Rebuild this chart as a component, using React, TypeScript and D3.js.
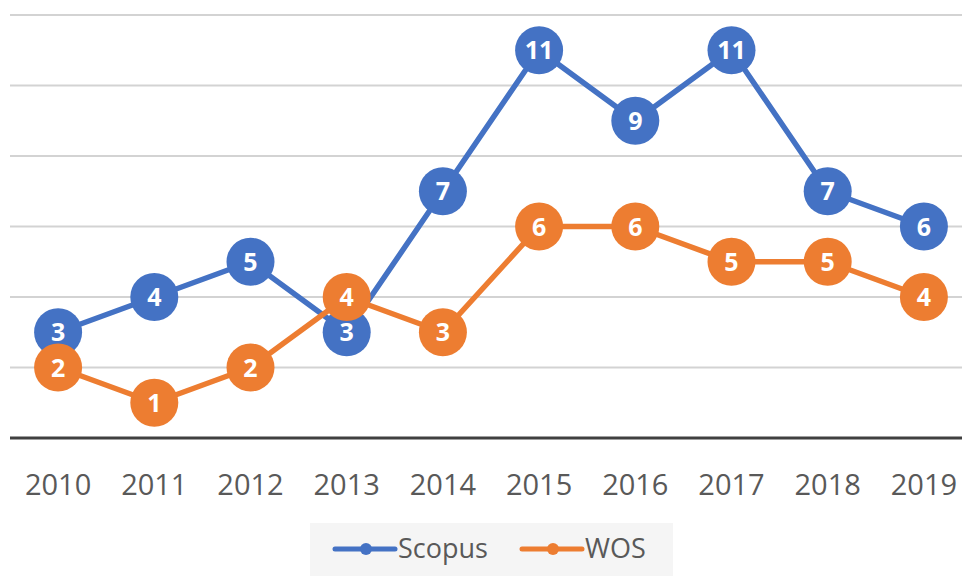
import React from 'react';
import { scaleBand, scaleLinear, line } from 'd3';

const years = ['2010', '2011', '2012', '2013', '2014', '2015', '2016', '2017', '2018', '2019'];
const scopus = [3, 4, 5, 3, 7, 11, 9, 11, 7, 6];
const wos = [2, 1, 2, 4, 3, 6, 6, 5, 5, 4];
const gridTicks = [2, 4, 6, 8, 10, 12];

const series = [
  { name: 'Scopus', values: scopus, color: '#4472C4' },
  { name: 'WOS', values: wos, color: '#ED7D31' },
];

export default function App() {
  const xScale = scaleBand().domain(years).range([10, 972]);
  const yScale = scaleLinear().domain([0, 12]).range([438, 15]);
  const cx = (y: string) => (xScale(y) as number) + xScale.bandwidth() / 2;

  const path = line<number>()
    .x((d, i) => cx(years[i]))
    .y(d => yScale(d));

  const font = '"Open Sans", "Liberation Sans", sans-serif';

  return (
    <svg width={962} height={576} style={{ position: 'absolute', left: 0, top: 0 }}>
      <rect width={962} height={576} fill="#fff" />
      {gridTicks.map(t => (
        <line key={t} x1={10} x2={962} y1={yScale(t)} y2={yScale(t)} stroke="#d3d3d3" strokeWidth={2} />
      ))}
      <line x1={10} x2={962} y1={yScale(0)} y2={yScale(0)} stroke="#404040" strokeWidth={3} />
      {years.map(y => (
        <text key={y} x={cx(y)} y={495} textAnchor="middle" fontFamily={font} fontSize={29} fill="#595959">
          {y}
        </text>
      ))}
      {series.map(s => (
        <g key={s.name}>
          <path d={path(s.values) || ''} fill="none" stroke={s.color} strokeWidth={5.5} strokeLinejoin="round" />
          {s.values.map((v, i) => (
            <g key={i}>
              <circle cx={cx(years[i])} cy={yScale(v)} r={24} fill={s.color} />
              <text
                x={cx(years[i])}
                y={yScale(v) + 9}
                textAnchor="middle"
                fontFamily={font}
                fontWeight="bold"
                fontSize={25}
                fill="#fff"
              >
                {v}
              </text>
            </g>
          ))}
        </g>
      ))}
      <rect x={310} y={523} width={363} height={53} fill="#f5f5f5" />
      {series.map((s, i) => {
        const lx = i === 0 ? 335 : 522;
        return (
          <g key={s.name}>
            <line x1={lx} x2={lx + 60} y1={549} y2={549} stroke={s.color} strokeWidth={5} strokeLinecap="round" />
            <circle cx={lx + 31} cy={549} r={6} fill={s.color} />
            <text x={lx + 63} y={558} fontFamily={font} fontSize={27} fill="#595959">
              {s.name}
            </text>
          </g>
        );
      })}
    </svg>
  );
}
